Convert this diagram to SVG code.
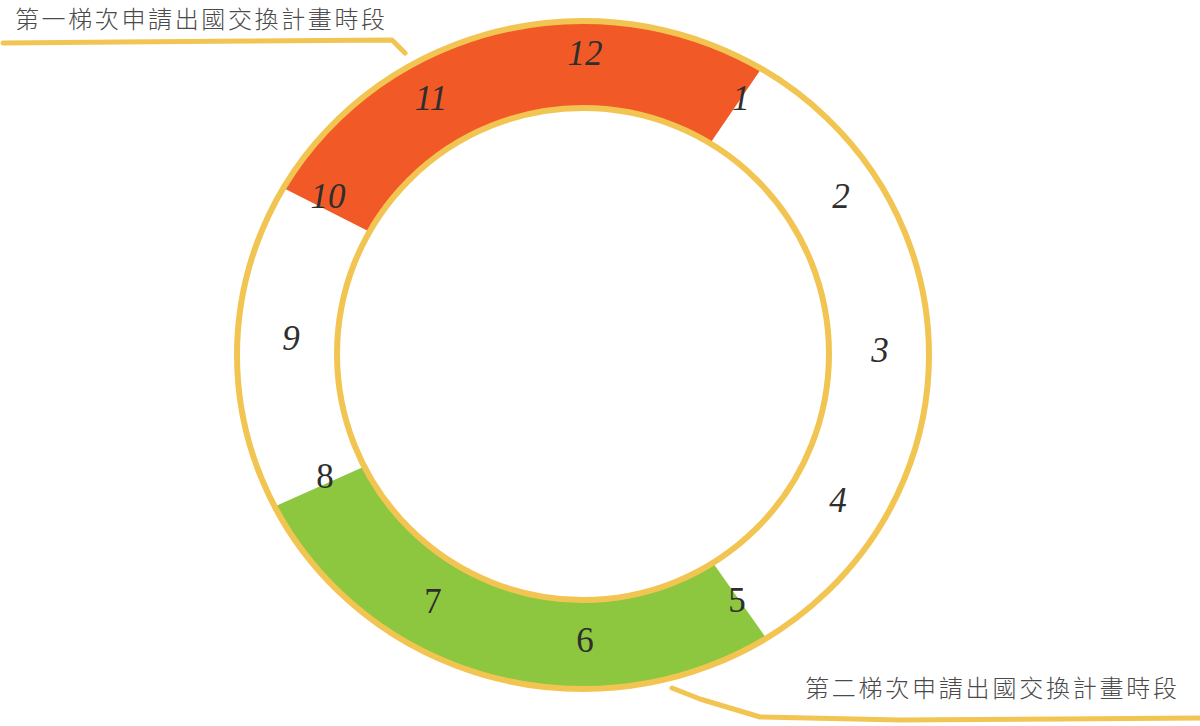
<svg xmlns="http://www.w3.org/2000/svg" width="1200" height="726" viewBox="0 0 1200 726">
<style>
.ring{fill:none;stroke:#F2C553;stroke-linecap:round;stroke-linejoin:round}
.num{font-family:"Liberation Serif","DejaVu Serif",serif;font-size:35px;fill:#2e2e2e;text-anchor:middle}
.it{font-style:italic}
.cap{font-family:"Noto Sans CJK TC","Noto Sans CJK SC",sans-serif;font-size:24px;fill:#4a4a4a;font-weight:300}
</style>
<rect width="1200" height="726" fill="#ffffff"/>
<g id="segment-first">
<path d="M283.4,188 A346,334 0 0 1 761.2,68.7 L709.7,144.1 A246,246 0 0 0 370,232 Z" fill="#F15A26"/>
</g>
<g id="segment-second">
<path d="M766.3,638.2 A346,334 0 0 1 274.7,506.6 L363.8,466.7 A246,246 0 0 0 713.4,563.6 Z" fill="#8DC63F"/>
</g>
<g id="connectors">
<ellipse class="ring" cx="583" cy="355" rx="346" ry="334" stroke-width="6"/>
<circle class="ring" cx="583" cy="354" r="246" stroke-width="6"/>
<polyline class="ring" points="3,43 120,42 250,41 392,40 405,53" stroke-width="5"/>
<polyline class="ring" points="672,688 700,699 760,717 900,720 1060,719 1200,718" stroke-width="5"/>
</g>
<g id="labels">
<text class="num it" x="585" y="65">12</text>
<text class="num it" x="431" y="110">11</text>
<text class="num it" x="328" y="208">10</text>
<text class="num it" x="741" y="110">1</text>
<text class="num it" x="841" y="208">2</text>
<text class="num it" x="880" y="362">3</text>
<text class="num it" x="838" y="512">4</text>
<text class="num" x="737" y="612">5</text>
<text class="num" x="585" y="652">6</text>
<text class="num" x="433" y="613">7</text>
<text class="num" x="325" y="488">8</text>
<text class="num it" x="291" y="350">9</text>
</g>
<g id="caption-first">
<text class="cap" x="15" y="28" textLength="370" lengthAdjust="spacing">第一梯次申請出國交換計畫時段</text>
</g>
<g id="caption-second">
<text class="cap" x="805" y="697" textLength="372" lengthAdjust="spacing">第二梯次申請出國交換計畫時段</text>
</g>
</svg>
